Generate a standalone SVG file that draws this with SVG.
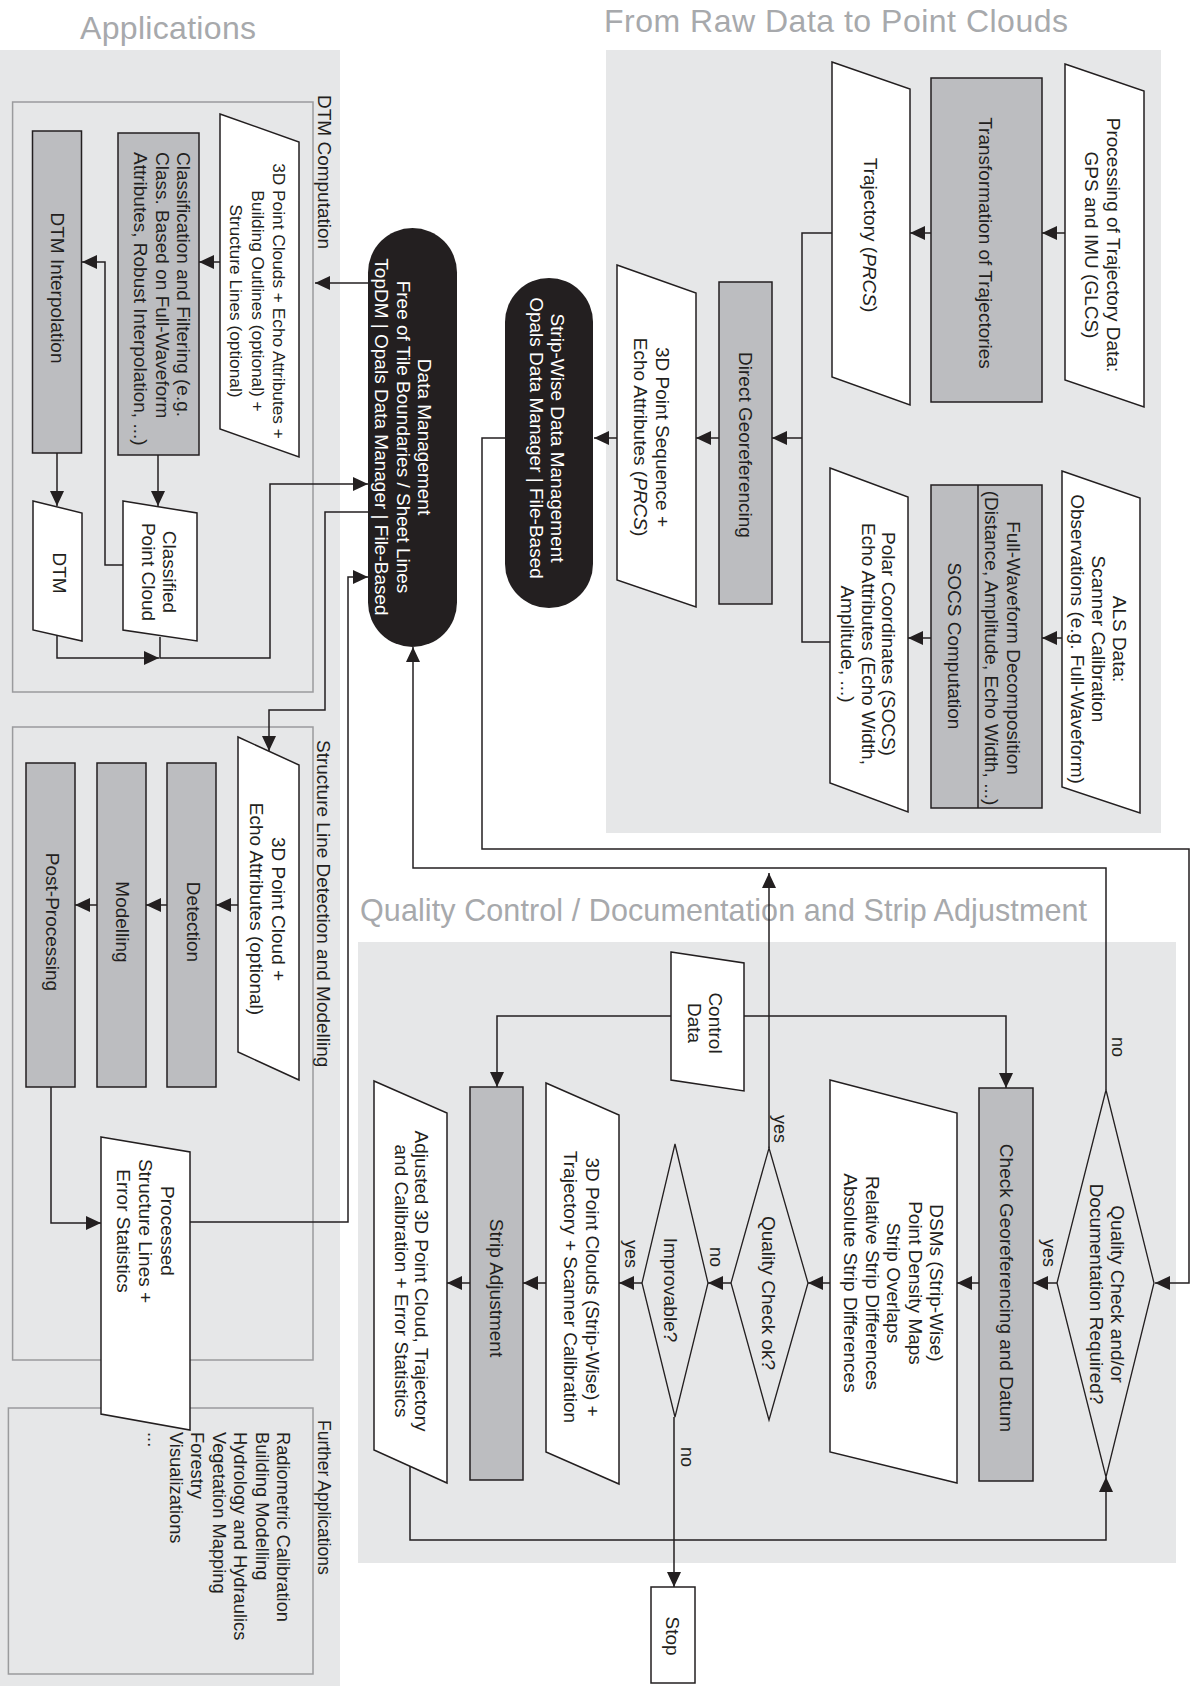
<svg xmlns="http://www.w3.org/2000/svg" width="1197" height="1686" viewBox="0 0 1197 1686">
<style>
.panel{fill:#e6e7e8}
.title{font-family:"Liberation Sans",Arial,Helvetica,sans-serif;fill:#a7a9ac}
.box{fill:none;stroke:#9a9b9d;stroke-width:1.5}
.proc{fill:#bcbdc0;stroke:#231f20;stroke-width:1.5}
.data{fill:#fff;stroke:#231f20;stroke-width:1.5}
.dec{fill:none;stroke:#231f20;stroke-width:1.3}
.pill{fill:#231f20}
.t{font-family:"Liberation Sans",Arial,Helvetica,sans-serif;font-size:19px;fill:#231f20;text-anchor:middle;dominant-baseline:central}
.s{text-anchor:start}
.w{fill:#fff}
.conn{fill:none;stroke:#231f20;stroke-width:1.5}
.a{marker-end:url(#arr)}
</style>
<defs>
<marker id="arr" markerUnits="userSpaceOnUse" markerWidth="15" markerHeight="14" refX="15" refY="7" orient="auto">
<path d="M0,0 L15,7 L0,14 Z" fill="#231f20"/>
</marker>
</defs>
<rect fill="#fff" x="0" y="0" width="1197" height="1686"/>

<g id="panels">
<rect class="panel" x="0" y="50" width="340" height="1636"/>
<rect class="panel" x="606" y="50" width="555" height="783"/>
<rect class="panel" x="358" y="942" width="818" height="621"/>
<text class="title" x="80" y="39" font-size="32" textLength="176">Applications</text>
<text class="title" x="604" y="32" font-size="32" textLength="464">From Raw Data to Point Clouds</text>
<text class="title" x="360" y="921" font-size="30.5" textLength="727">Quality Control / Documentation and Strip Adjustment</text>
</g>

<g id="dtm-computation">
<rect class="box" x="12.6" y="102" width="300.4" height="590"/>
<text class="t s" transform="translate(324,95) rotate(90)">DTM Computation</text>
</g>
<g id="structure-line-detection">
<rect class="box" x="12.6" y="727" width="300.4" height="633"/>
<text class="t s" transform="translate(323,740) rotate(90)">Structure Line Detection and Modelling</text>
</g>
<g id="further-applications">
<rect class="box" x="8.4" y="1408" width="304.6" height="266"/>
<text class="t s" style="font-size:17.5px" transform="translate(324,1420) rotate(90)">Further Applications</text>
<text class="t s" style="font-size:18.3px" transform="translate(284,1432) rotate(90)"><tspan x="0" y="0">Radiometric Calibration</tspan><tspan x="0" y="21.5">Building Modelling</tspan><tspan x="0" y="43">Hydrology and Hydraulics</tspan><tspan x="0" y="64.5">Vegetation Mapping</tspan><tspan x="0" y="86">Forestry</tspan><tspan x="0" y="107.5">Visualizations</tspan><tspan x="0" y="129">...</tspan></text>
</g>

<g id="connectors">
<path class="conn a" d="M368,283 H315"/>
<path class="conn a" d="M220,262 H199"/>
<path class="conn a" d="M158,455 V506"/>
<path class="conn a" d="M57,453 V506"/>
<path class="conn a" d="M123,565 H105 V262 H82"/>
<path class="conn a" d="M57,632 V658 H159"/>
<path class="conn a" d="M160,637 V658 H270 V484 H368"/>
<path class="conn a" d="M368,512 H325 V710 H269 V751"/>
<path class="conn a" d="M190,1222 H348 V577 H368"/>
<path class="conn a" d="M238,905 H216"/>
<path class="conn a" d="M167,905 H146"/>
<path class="conn a" d="M97,905 H75"/>
<path class="conn a" d="M51,1087 V1223 H101"/>
<path class="conn a" d="M1065,233 H1042"/>
<path class="conn a" d="M931,233 H910"/>
<path class="conn" d="M832,233 H802 V642 H830"/>
<path class="conn a" d="M802,438 H772"/>
<path class="conn a" d="M1062,638 H1042"/>
<path class="conn a" d="M931,638 H908"/>
<path class="conn a" d="M719,438 H696"/>
<path class="conn a" d="M617,438 H594"/>
<path class="conn a" d="M505,438 H482 V849 H1189 V1283 H1155"/>
<path class="conn a" d="M1106,1090 V868 H413 V647"/>
<path class="conn a" d="M1057,1283 H1033"/>
<path class="conn a" d="M979,1283 H957"/>
<path class="conn a" d="M830,1283 H808"/>
<path class="conn a" d="M731,1283 H708"/>
<path class="conn a" d="M642,1283 H619"/>
<path class="conn a" d="M546,1283 H523"/>
<path class="conn a" d="M470,1283 H447"/>
<path class="conn a" d="M410,1466 V1540 H1106 V1477"/>
<path class="conn a" d="M769,1148 V873"/>
<path class="conn a" d="M674,1417 V1587"/>
<path class="conn a" d="M744,1016 H1006 V1088"/>
<path class="conn a" d="M671,1016 H497 V1087"/>
<text class="t" style="font-size:18px" transform="translate(780,1129) rotate(90)">yes</text>
<text class="t" style="font-size:18px" transform="translate(1118,1047) rotate(90)">no</text>
<text class="t" style="font-size:18px" transform="translate(1049,1253) rotate(90)">yes</text>
<text class="t" style="font-size:18px" transform="translate(716,1257) rotate(90)">no</text>
<text class="t" style="font-size:18px" transform="translate(631,1254) rotate(90)">yes</text>
<text class="t" style="font-size:18px" transform="translate(687,1457) rotate(90)">no</text>
</g>

<g id="point-clouds-echo">
<polygon class="data" points="220,114 299,142 299,457 220,429"/>
<text class="t" style="font-size:17.3px" transform="translate(279,301) rotate(90)"><tspan x="0" y="0">3D Point Clouds + Echo Attributes +</tspan><tspan x="0" y="21.5">Building Outlines (optional) +</tspan><tspan x="0" y="43">Structure Lines (optional)</tspan></text>
</g>
<g id="classification">
<rect class="proc" x="118" y="133" width="81" height="322"/>
<text class="t s" transform="translate(184,152) rotate(90)"><tspan x="0" y="0">Classification and Filtering (e.g.</tspan><tspan x="0" y="21.5">Class. Based on Full-Waveform</tspan><tspan x="0" y="43">Attributes, Robust Interpolation, ...)</tspan></text>
</g>
<g id="dtm-interpolation">
<rect class="proc" x="32.5" y="131" width="49" height="322"/>
<text class="t" transform="translate(57,288) rotate(90)">DTM Interpolation</text>
</g>
<g id="classified-point-cloud">
<polygon class="data" points="123,501 197,513 197,641 123,630"/>
<text class="t" transform="translate(170,572) rotate(90)"><tspan x="0" y="0">Classified</tspan><tspan x="0" y="21.5">Point Cloud</tspan></text>
</g>
<g id="dtm">
<polygon class="data" points="33,501 82,513 82,641 33,630"/>
<text class="t" transform="translate(59,573) rotate(90)">DTM</text>
</g>
<g id="data-management">
<rect class="pill" x="368" y="228" width="89" height="419" rx="44.5" ry="44.5"/>
<text class="t w" transform="translate(425,437) rotate(90)"><tspan x="0" y="0">Data Management</tspan><tspan x="0" y="21.5">Free of Tile Boundaries / Sheet Lines</tspan><tspan x="0" y="43">TopDM | Opals Data Manager | File-Based</tspan></text>
</g>
<g id="strip-wise-data-management">
<rect class="pill" x="505" y="278" width="88" height="330" rx="44" ry="44"/>
<text class="t w" transform="translate(558,438) rotate(90)"><tspan x="0" y="0">Strip-Wise Data Management</tspan><tspan x="0" y="21.5">Opals Data Manager | File-Based</tspan></text>
</g>
<g id="processing-trajectory">
<polygon class="data" points="1065,64 1144,91 1144,407 1065,380"/>
<text class="t" transform="translate(1114,245) rotate(90)"><tspan x="0" y="0">Processing of Trajectory Data:</tspan><tspan x="0" y="22">GPS and IMU (GLCS)</tspan></text>
</g>
<g id="transformation">
<rect class="proc" x="931" y="78" width="111" height="324"/>
<text class="t" transform="translate(985,243) rotate(90)">Transformation of Trajectories</text>
</g>
<g id="trajectory">
<polygon class="data" points="832,62 910,89 910,405 832,377"/>
<text class="t" transform="translate(870,235) rotate(90)">Trajectory (<tspan font-style="italic">PRCS</tspan>)</text>
</g>
<g id="direct-georeferencing">
<rect class="proc" x="719" y="282" width="53" height="322"/>
<text class="t" transform="translate(745,445) rotate(90)">Direct Georeferencing</text>
</g>
<g id="point-sequence">
<polygon class="data" points="617,265 696,293 696,607 617,580"/>
<text class="t" transform="translate(663,437) rotate(90)"><tspan x="0" y="0">3D Point Sequence +</tspan><tspan x="0" y="22">Echo Attributes (<tspan font-style="italic">PRCS</tspan>)</tspan></text>
</g>
<g id="als-data">
<polygon class="data" points="1062,471 1140,498 1140,813 1062,787"/>
<text class="t" transform="translate(1120,639) rotate(90)"><tspan x="0" y="0">ALS Data:</tspan><tspan x="0" y="21">Scanner Calibration</tspan><tspan x="0" y="42">Observations (e.g. Full-Waveform)</tspan></text>
</g>
<g id="socs-computation">
<rect class="proc" x="931" y="485" width="111" height="323"/>
<line x1="978" y1="485" x2="978" y2="808" stroke="#231f20" stroke-width="1.5"/>
<text class="t" transform="translate(1014,648) rotate(90)"><tspan x="0" y="0">Full-Waveform Decomposition</tspan><tspan x="0" y="22">(Distance, Amplitude, Echo Width, ...)</tspan></text>
<text class="t" transform="translate(954,646) rotate(90)">SOCS Computation</text>
</g>
<g id="polar-coordinates">
<polygon class="data" points="830,468 908,497 908,812 830,783"/>
<text class="t" transform="translate(889,644) rotate(90)"><tspan x="0" y="0">Polar Coordinates (SOCS)</tspan><tspan x="0" y="20.5">Echo Attributes (Echo Width,</tspan><tspan x="0" y="41">Amplitude, ...)</tspan></text>
</g>
<g id="point-cloud-structure">
<polygon class="data" points="238,737 299,765 299,1080 238,1052"/>
<text class="t" transform="translate(279,909) rotate(90)"><tspan x="0" y="0">3D Point Cloud +</tspan><tspan x="0" y="22">Echo Attributes (optional)</tspan></text>
</g>
<g id="detection">
<rect class="proc" x="167" y="763" width="49" height="324"/>
<text class="t" transform="translate(193,922) rotate(90)">Detection</text>
</g>
<g id="modelling">
<rect class="proc" x="97" y="763" width="49" height="324"/>
<text class="t" transform="translate(122,922) rotate(90)">Modelling</text>
</g>
<g id="post-processing">
<rect class="proc" x="26" y="763" width="49" height="324"/>
<text class="t" transform="translate(52,922) rotate(90)">Post-Processing</text>
</g>
<g id="processed-structure-lines">
<polygon class="data" points="101,1137 190,1152 190,1430 101,1414"/>
<text class="t" transform="translate(168,1231) rotate(90)"><tspan x="0" y="0">Processed</tspan><tspan x="0" y="22">Structure Lines +</tspan><tspan x="0" y="44">Error Statistics</tspan></text>
</g>
<g id="control-data">
<polygon class="data" points="671,952 744,963 744,1091 671,1080"/>
<text class="t" transform="translate(716,1023) rotate(90)"><tspan x="0" y="0">Control</tspan><tspan x="0" y="21">Data</tspan></text>
</g>
<g id="check-georeferencing">
<rect class="proc" x="979" y="1088" width="54" height="393"/>
<text class="t" transform="translate(1006,1288) rotate(90)">Check Georeferencing and Datum</text>
</g>
<g id="dsms">
<polygon class="data" points="830,1080 957,1113 957,1483 830,1452"/>
<text class="t" transform="translate(937,1283) rotate(90)"><tspan x="0" y="0">DSMs (Strip-Wise)</tspan><tspan x="0" y="21.5">Point Density Maps</tspan><tspan x="0" y="43">Strip Overlaps</tspan><tspan x="0" y="64.5">Relative Strip Differences</tspan><tspan x="0" y="86">Absolute Strip Differences</tspan></text>
</g>
<g id="quality-check-required">
<polygon class="dec" points="1106,1090 1154,1283 1106,1477 1057,1283"/>
<text class="t" transform="translate(1118,1294) rotate(90)"><tspan x="0" y="0">Quality Check and/or</tspan><tspan x="0" y="21">Documentation Required?</tspan></text>
</g>
<g id="quality-check-ok">
<polygon class="dec" points="769,1148 808,1283 769,1420 731,1283"/>
<text class="t" transform="translate(768,1293) rotate(90)">Quality Check ok?</text>
</g>
<g id="improvable">
<polygon class="dec" points="675,1144 708,1283 675,1417 642,1283"/>
<text class="t" transform="translate(670,1290) rotate(90)">Improvable?</text>
</g>
<g id="point-clouds-strip-wise">
<polygon class="data" points="546,1083 619,1115 619,1484 546,1452"/>
<text class="t" transform="translate(593,1287) rotate(90)"><tspan x="0" y="0">3D Point Clouds (Strip-Wise) +</tspan><tspan x="0" y="22.5">Trajectory + Scanner Calibration</tspan></text>
</g>
<g id="strip-adjustment">
<rect class="proc" x="470" y="1087" width="53" height="393"/>
<text class="t" transform="translate(496,1288) rotate(90)">Strip Adjustment</text>
</g>
<g id="adjusted-point-cloud">
<polygon class="data" points="374,1081 447,1113 447,1483 374,1450"/>
<text class="t" transform="translate(422,1281) rotate(90)"><tspan x="0" y="0">Adjusted 3D Point Cloud, Trajectory</tspan><tspan x="0" y="20.5">and Calibration + Error Statistics</tspan></text>
</g>
<g id="stop">
<rect class="data" x="651" y="1587" width="44" height="96"/>
<text class="t" transform="translate(672,1636) rotate(90)">Stop</text>
</g>
</svg>
